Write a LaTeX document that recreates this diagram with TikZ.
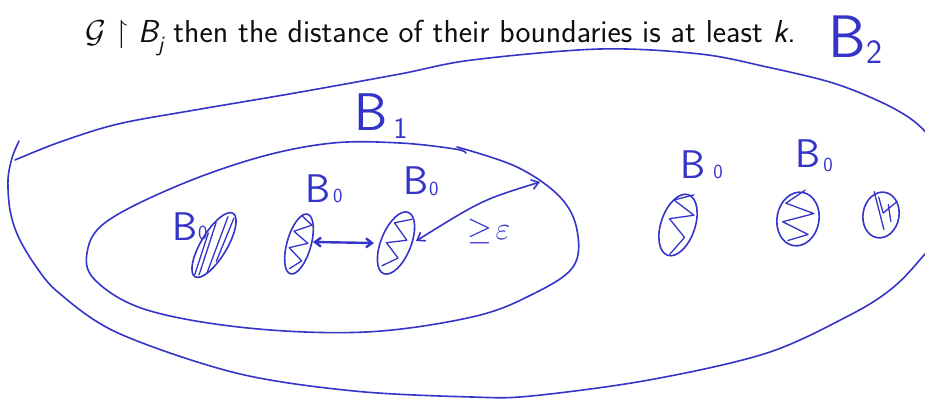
\RequirePackage{fix-cm}
\documentclass[tikz,border=0pt]{standalone}
\usepackage{amssymb}
\usepackage{fontspec}
\usetikzlibrary{arrows.meta}
\definecolor{ink}{RGB}{52,52,200}
\definecolor{txt}{RGB}{15,15,15}
\newcommand{\hwlab}[5]{{\fontsize{#1}{#1}\selectfont B\kern#5\raisebox{#3}{\fontsize{#2}{#2}\selectfont #4}}}
\newcommand{\inkblob}[6]{%
  \begin{scope}[shift={(#1,#2)}, rotate=#5]
    \draw[inkl] (0,0) ellipse [x radius=#3, y radius=#4];
    \begin{scope}[xscale=#3, yscale=#4]
      \draw[inkl, line width=1.3pt] #6;
    \end{scope}
  \end{scope}}
\begin{document}
\begin{tikzpicture}[x=1pt,y=-1pt,
  inkl/.style={draw=ink, line width=1.6pt, line cap=round, line join=round},
  hw/.style={text=ink, inner sep=0pt, anchor=base west, font=\sffamily},
  mybarb/.tip={Straight Barb[length=7pt,width=10pt]},
  mysbarb/.tip={Straight Barb[length=6pt,width=9pt]}]
\useasboundingbox (0,0) rectangle (925,399);
\clip (0,0) rectangle (925,399);

% slide text
\node[anchor=base west, inner sep=0pt, text=txt, font=\sffamily\fontsize{31.8}{36}\selectfont] (title) at (85,42)
  {$\mathcal{G}\upharpoonright$ {\itshape B}\raisebox{-0.3em}{\fontsize{22}{22}\selectfont\itshape j} then the distance of their boundaries is at least {\itshape k}.};

% outer region B2
\draw[inkl] plot[smooth, tension=0.55] coordinates {
  (19,141) (12,158) (8,180) (10,210) (18,236) (35,265) (59,293) (118,333)
  (236,373) (354,391) (472,397) (531,396) (649,380) (767,353) (850,315)
  (890,290) (918,262) (945,225) (950,180) (935,145) (915,122) (883,103)
  (833,83) (767,67) (700,54) (600,49) (472,60) (400,74) (295,93)
  (195,110) (118,124) (60,142) (15,160)};

% inner region B1
\draw[inkl] plot[smooth, tension=0.6] coordinates {
  (457,147) (517,167) (560,197) (577,230) (573,267) (531,295) (472,317)
  (366,332) (248,328) (147,310) (96,281) (87,253) (106,222) (177,186)
  (260,157) (333,143) (400,143) (455,149) (466,153)};

% labels
\node[hw] (lB2) at (828,57) {\hwlab{60}{34}{-6pt}{2}{1pt}};
\node[hw] (lB1) at (354,130) {\hwlab{53}{30}{-8pt}{1}{6pt}};
\node[hw] (l1) at (172,240) {\hwlab{40}{20}{1pt}{0}{1pt}};
\node[hw] (l2) at (305,202) {\hwlab{40}{20}{0pt}{0}{3pt}};
\node[hw] (l3) at (403,194) {\hwlab{40}{20}{-1pt}{0}{1pt}};
\node[hw] (l4) at (680,178) {\hwlab{40}{20}{0pt}{0}{8pt}};
\node[hw] (l5) at (795,167) {\hwlab{40}{20}{-4pt}{0}{3pt}};
\node[hw, font=\fontsize{32}{32}\selectfont] (eps) at (467,239) {$\geq\!\varepsilon$};

% blobs
\inkblob{214}{245}{37}{13}{59}{(-0.9,0.2) -- (0.55,-0.75) (-0.75,0.65) -- (0.85,-0.2) (-0.35,0.8) -- (0.9,0.25) (-0.95,-0.1) -- (0.2,-0.85)}
\inkblob{299}{244}{31}{12}{74}{(0.9,-0.4) -- (0.7,0.6) -- (0.35,-0.7) -- (0.1,0.7) -- (-0.2,-0.7) -- (-0.5,0.6) -- (-0.85,-0.2)}
\inkblob{396}{243}{33}{15}{68}{(0.85,0.4) -- (0.55,-0.6) -- (0.2,0.6) -- (-0.1,-0.6) -- (-0.4,0.5) -- (-0.8,-0.3)}
\inkblob{678}{225}{32}{17}{71}{(1.05,0.3) -- (0.7,-0.7) -- (0.45,0.7) -- (0.1,-0.6) -- (-0.3,0.6) -- (-0.95,0.1)}
\inkblob{798}{219}{27}{21}{80}{(1.1,0.1) -- (0.5,-0.7) -- (0.3,0.7) -- (-0.2,-0.7) -- (-0.5,0.6) -- (-0.85,-0.3)}
\inkblob{881}{215}{23}{18}{80}{(0.7,0.75) -- (0.1,0.1) -- (0.75,-0.3) (0.95,-0.6) -- (-0.6,0.3) (0.5,0.3) -- (-0.2,0.6)}

% arrows
\coordinate (dA) at (313,242);
\coordinate (dB) at (374,243);
\draw[inkl, line width=2.4pt, mysbarb-mysbarb] (dA) -- (dB);
\coordinate (eA) at (416,241);
\coordinate (eB) at (540,182);
\draw[inkl, mybarb-mybarb] (eA) .. controls (482,200) .. (eB);
\end{tikzpicture}
\end{document}
